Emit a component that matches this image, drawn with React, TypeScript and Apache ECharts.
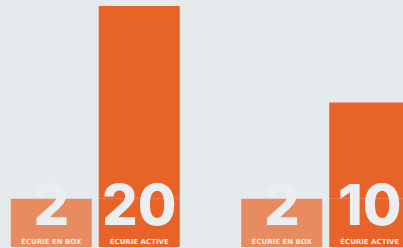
import React, { useEffect, useRef } from "react";
import * as echarts from "echarts";

const groups = ["Groupe A", "Groupe B"];
const boxValues = [2, 2];
const activeValues = [20, 10];
const boxLabel = "ÉCURIE EN BOX";
const activeLabel = "ÉCURIE ACTIVE";
const baseBlock = [5, 5];

export default function App() {
  const ref = useRef<HTMLDivElement>(null);
  useEffect(() => {
    const chart = echarts.init(ref.current!, null, { renderer: "svg" });
    const rich = {
      big: {
        fontFamily: "Inter",
        fontWeight: 800,
        fontSize: 56,
        lineHeight: 64,
        color: "#eceff2",
      },
      small: {
        fontFamily: "DejaVu Sans",
        fontWeight: "bold",
        fontSize: 7,
        lineHeight: 10,
        color: "#f3e6df",
      },
    };
    chart.setOption({
      animation: false,
      backgroundColor: "#e6eaed",
      grid: {
        left: -20,
        width: 461,
        top: 6,
        bottom: 1,
        outerBoundsMode: "none",
        containLabel: false,
      },
      xAxis: {
        type: "category",
        data: groups,
        show: false,
      },
      yAxis: [
        { type: "value", min: 0, max: 25, show: false },
        { type: "value", min: 0, max: 10, show: false },
      ],
      series: [
        {
          name: boxLabel,
          type: "bar",
          yAxisIndex: 1,
          data: boxValues,
          barWidth: 81,
          barGap: "8.6%",
          itemStyle: { color: "#e98b60" },
          label: {
            show: true,
            position: "insideBottom",
            distance: 0,
            formatter: (p: any) => `{big|${boxValues[p.dataIndex]}}\n{small|${boxLabel}}`,
            rich,
          },
        },
        {
          name: "socle",
          type: "bar",
          stack: "active",
          yAxisIndex: 0,
          data: baseBlock,
          barWidth: 81,
          barGap: "8.6%",
          itemStyle: { color: "#e86327" },
          label: {
            show: true,
            position: "insideBottom",
            distance: 0,
            formatter: (p: any) => `{big|${activeValues[p.dataIndex]}}\n{small|${activeLabel}}`,
            rich,
          },
          z: 3,
        },
        {
          name: activeLabel,
          type: "bar",
          stack: "active",
          yAxisIndex: 0,
          data: activeValues,
          barWidth: 81,
          barGap: "8.6%",
          itemStyle: { color: "#e86327" },
        },
      ],
    });
    return () => chart.dispose();
  }, []);
  return (
    <div
      ref={ref}
      style={{ position: "fixed", left: 0, top: 0, width: 403, height: 248 }}
    />
  );
}
